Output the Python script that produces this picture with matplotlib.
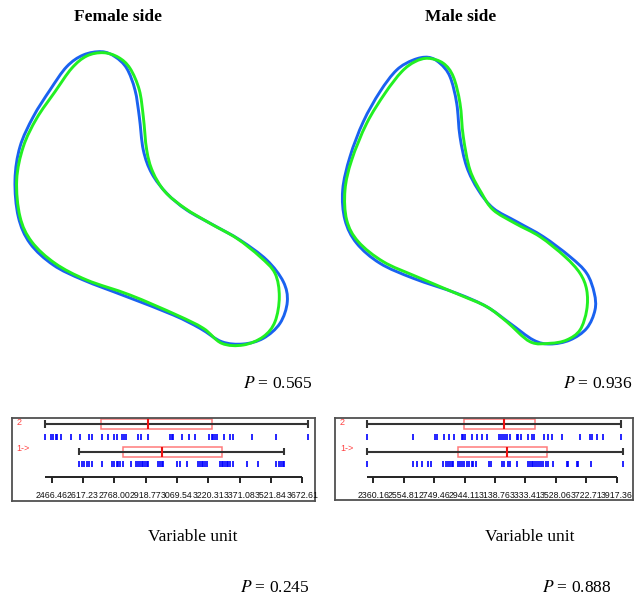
import matplotlib
matplotlib.use("Agg")
import matplotlib.pyplot as plt
from matplotlib.patches import Rectangle, PathPatch
from matplotlib.path import Path
import numpy as np

plt.rcParams['mathtext.fontset'] = 'stix'

# ---------------- data ----------------
titles = ["Female side", "Male side"]
p_shape = ["0.565", "0.936"]
p_size = ["0.245", "0.888"]
xlabel = "Variable unit"
row_labels = ["2", "1->"]

# outlines (traced coordinates, figure pixel space)
female_blue_x = [101.7, 83.3, 66.7, 50.0, 33.3, 20.0, 15.0, 18.3, 30.0, 53.3, 83.3, 126.7, 173.3, 200.0, 221.7,
                 243.3, 263.3, 280.0, 287.3, 283.3, 266.7, 240.0, 213.3, 186.7, 166.7, 151.7, 143.3, 139.3, 135.0,
                 126.7, 115.0]
female_blue_y = [51.7, 55.0, 66.7, 90.0, 116.7, 146.7, 180.0, 216.7, 243.3, 265.0, 280.0, 296.7, 315.0, 328.3, 341.7,
                 344.0, 338.3, 323.3, 301.7, 281.7, 260.0, 240.0, 225.0, 210.0, 193.3, 173.3, 150.0, 116.7, 90.0,
                 68.3, 56.7]
female_green_x = [103.3, 86.7, 71.7, 55.0, 36.7, 23.3, 16.7, 20.0, 31.7, 55.0, 86.7, 130.0, 176.7, 203.3, 221.7,
                  243.3, 263.3, 275.0, 279.3, 275.0, 260.0, 236.7, 210.0, 185.0, 165.0, 152.7, 146.7, 143.3, 139.3,
                  130.0, 118.3]
female_green_y = [52.7, 56.0, 68.3, 91.7, 118.3, 146.7, 180.0, 216.7, 241.7, 263.3, 280.0, 295.0, 315.0, 328.3, 343.3,
                  345.0, 336.7, 321.7, 296.7, 273.3, 256.7, 238.3, 223.3, 208.3, 191.7, 171.7, 150.0, 116.7, 90.0,
                  68.3, 57.3]
male_blue_x = [428.3, 413.3, 396.7, 380.0, 363.3, 350.0, 342.7, 345.0, 356.7, 380.0, 413.3, 456.7, 486.7, 510.0, 533.3,
               550.0, 570.0, 586.7, 595.0, 594.3, 586.7, 570.0, 543.3, 516.7, 493.3, 478.3, 466.7, 460.0, 456.7,
               450.0, 440.0]
male_blue_y = [57.3, 60.0, 70.0, 91.7, 121.7, 156.7, 190.0, 220.0, 243.3, 263.3, 278.3, 293.3, 306.7, 323.3, 340.0,
               344.0, 340.0, 328.3, 310.0, 293.3, 273.3, 256.7, 236.7, 221.7, 208.3, 190.0, 166.7, 136.7, 103.3,
               76.7, 63.3]
male_green_x = [428.3, 415.0, 401.7, 385.0, 366.7, 351.7, 345.0, 346.7, 358.3, 383.3, 416.7, 460.0, 486.7, 506.7, 530.0,
                550.0, 566.7, 580.0, 586.7, 586.7, 580.0, 565.0, 540.0, 515.0, 493.3, 481.7, 470.0, 463.3, 460.0,
                453.3, 443.3]
male_green_y = [58.3, 61.7, 71.7, 93.3, 123.3, 160.0, 190.0, 220.0, 241.7, 261.7, 276.7, 295.0, 306.7, 321.7, 341.7,
                343.3, 340.0, 330.0, 310.0, 290.0, 273.3, 256.7, 236.7, 223.3, 210.0, 193.3, 170.0, 136.7, 103.3,
                76.7, 63.3]

# female variable
female_ticks = [2466.46, 2617.23, 2768.00, 2918.77, 3069.54, 3220.31, 3371.08, 3521.84, 3672.61]
female_g2 = [2434, 2462, 2474, 2486, 2493, 2511, 2558, 2603, 2647, 2659, 2707, 2739, 2766, 2782, 2803, 2814, 2824,
             2883, 2895, 2928, 3036, 3044, 3052, 3092, 3129, 3156, 3225, 3236, 3244, 3252, 3260, 3296, 3324, 3340,
             3429, 3546, 3701]
female_g1 = [2599, 2611, 2622, 2635, 2647, 2659, 2707, 2755, 2766, 2779, 2787, 2795, 2808, 2847, 2872, 2883, 2891,
             2900, 2907, 2915, 2924, 2931, 2979, 2988, 2996, 3004, 3068, 3084, 3116, 3172, 3180, 3188, 3196, 3204,
             3212, 3276, 3285, 3292, 3300, 3309, 3316, 3324, 3340, 3408, 3461, 3546, 3562, 3570, 3578, 3586]
# box stats: whisker low, q1, median, q3, whisker high
female_box_g2 = [2434, 2702, 2928, 3239, 3701]
female_box_g1 = [2599, 2808, 2999, 3287, 3586]

# male variable
male_ticks = [2360.16, 2554.81, 2749.46, 2944.11, 3138.76, 3333.41, 3528.06, 3722.71, 3917.36]
male_g2 = [2318, 2612, 2755, 2765, 2813, 2846, 2877, 2926, 2936, 2947, 2990, 3022, 3054, 3086, 3165, 3177, 3190,
           3203, 3216, 3235, 3278, 3288, 3305, 3352, 3374, 3390, 3454, 3480, 3506, 3566, 3683, 3747, 3758, 3790,
           3832, 3945]
male_g1 = [2318, 2616, 2638, 2670, 2708, 2729, 2808, 2823, 2836, 2851, 2862, 2872, 2904, 2915, 2930, 2942, 2958,
           2973, 2990, 3000, 3015, 3102, 3113, 3186, 3197, 3220, 3237, 3278, 3352, 3363, 3374, 3384, 3395, 3406,
           3420, 3433, 3448, 3463, 3476, 3512, 3598, 3608, 3662, 3672, 3751, 3956]
male_box_g2 = [2318, 2941, 3198, 3395, 3945]
male_box_g1 = [2318, 2904, 3214, 3474, 3956]

# ---------------- figure ----------------
W, H = 637, 599
fig = plt.figure(figsize=(W / 100, H / 100), dpi=100)
bg = fig.add_axes([0, 0, 1, 1])
bg.set_xlim(0, W)
bg.set_ylim(H, 0)
bg.axis('off')

BLUE = '#1a62f0'
GREEN = '#22f022'


def smooth_closed_path(xs, ys):
    """Closed curve through the traced points, drawn with cubic Bezier segments."""
    P = np.column_stack([xs, ys]).astype(float)
    n = len(P)
    verts = [P[0]]
    codes = [Path.MOVETO]
    for i in range(n):
        p0, p1, p2, p3 = P[i - 1], P[i], P[(i + 1) % n], P[(i + 2) % n]
        c1 = p1 + (p2 - p0) / 6.0
        c2 = p2 - (p3 - p1) / 6.0
        verts += [c1, c2, p2]
        codes += [Path.CURVE4] * 3
    return Path(verts, codes)


for bx, by, gx, gy in [(female_blue_x, female_blue_y, female_green_x, female_green_y),
                       (male_blue_x, male_blue_y, male_green_x, male_green_y)]:
    bg.add_patch(PathPatch(smooth_closed_path(bx, by), fill=False, edgecolor=BLUE, lw=2.1, joinstyle='round'))
    bg.add_patch(PathPatch(smooth_closed_path(gx, gy), fill=False, edgecolor=GREEN, lw=2.1, joinstyle='round'))

serif = 'Liberation Serif'
bg.text(117.5, 17, titles[0], ha='center', va='center', fontsize=12.5, fontweight='bold', family=serif)
bg.text(460.5, 17, titles[1], ha='center', va='center', fontsize=12.5, fontweight='bold', family=serif)
for x, y, p in [(242.7, 383.5, p_shape[0]), (563.0, 383.5, p_shape[1]),
                (240.0, 588.5, p_size[0]), (541.7, 588.5, p_size[1])]:
    bg.text(x, y, r'$P$ = ' + p, ha='left', va='center', fontsize=12.5, family=serif)
bg.text(192.5, 537, xlabel, ha='center', va='center', fontsize=12.5, family=serif)
bg.text(529.7, 537, xlabel, ha='center', va='center', fontsize=12.5, family=serif)


def panel(x0, x1, y0, y1, p0, p1, ticks, g2, g1, box2, box1):
    ax = fig.add_axes([x0 / W, 1 - y1 / H, (x1 - x0) / W, (y1 - y0) / H])
    scale = (ticks[-1] - ticks[0]) / (p1 - p0)
    ax.set_xlim(ticks[0] - (p0 - x0) * scale, ticks[-1] + (x1 - p1) * scale)
    unit = 27.7
    ax.set_ylim(1 - (y1 - 451.7) / unit, 2 + (424 - y0) / unit)
    ax.set_xticks([])
    ax.set_yticks([])
    for s in ax.spines.values():
        s.set_color('#505050')
        s.set_linewidth(1.3)
    for row, vals, st in [(2, g2, box2), (1, g1, box1)]:
        lo, q1, med, q3, hi = st
        ax.hlines(row, lo, hi, color='#333333', lw=1.5)
        ax.vlines([lo, hi], row - 0.13, row + 0.13, color='#333333', lw=1.5)
        ax.add_patch(Rectangle((q1, row - 0.175), q3 - q1, 0.35, fill=False,
                               edgecolor='#ff7a7a', lw=1.1))
        ax.vlines(med, row - 0.175, row + 0.175, color='#ee1111', lw=1.5)
        ax.vlines(vals, row - 0.57, row - 0.35, color='#0000ff', lw=1.2)
    ya = 1 - 25 / unit
    allv = list(g2) + list(g1)
    ax.hlines(ya, min(allv), ticks[-1], color='#222222', lw=1.4)
    ax.vlines(ticks, ya - 0.24, ya, color='#222222', lw=1.4)
    for t in ticks:
        ax.text(t, 1 - 44.3 / unit, f"{t:.2f}", ha='center', va='center',
                fontsize=6.3, family='Liberation Sans', color='#111111')
    ax.text(5 / (x1 - x0), 2.04, row_labels[0], transform=ax.get_yaxis_transform(),
            ha='left', va='center', fontsize=6.5, color='#ff4040', family='Liberation Sans')
    ax.text(5 / (x1 - x0), 1.12, row_labels[1], transform=ax.get_yaxis_transform(),
            ha='left', va='center', fontsize=6.5, color='#ff4040', family='Liberation Sans')
    return ax


panel(11.7, 315.0, 418.0, 500.7, 51.7, 302.3, female_ticks, female_g2, female_g1, female_box_g2, female_box_g1)
panel(335.0, 633.0, 418.0, 500.0, 373.3, 616.7, male_ticks, male_g2, male_g1, male_box_g2, male_box_g1)

fig.savefig('out.png', dpi=100)
